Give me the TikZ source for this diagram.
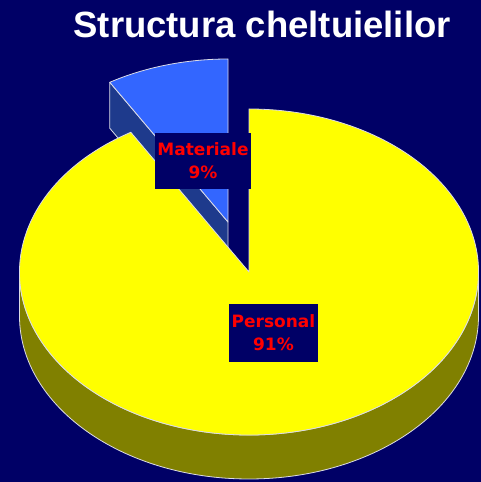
\documentclass[tikz,border=0pt]{standalone}
\usepackage{fontspec}
\setmainfont{Liberation Sans}
\newfontfamily\sharefont{DejaVu Sans}
\definecolor{navy}{HTML}{000066}
\definecolor{rim}{HTML}{DCDCE6}
\definecolor{topblue}{HTML}{3366FF}
\definecolor{sideblue}{HTML}{1E3A8C}
\definecolor{topyellow}{HTML}{FFFF00}
\definecolor{sideyellow}{HTML}{808000}
\begin{document}
\begin{tikzpicture}[x=1pt,y=1pt,
  slice/.style={draw=rim,line width=0.8pt,line join=round},
  share/.style={fill=navy,text=red,inner sep=0pt,align=center,
    font=\sharefont\bfseries\fontsize{17}{23}\selectfont}]

  \useasboundingbox (0,0) rectangle (481,482);
  \fill[navy] (0,0) rectangle (481,482);

  \node[anchor=base west,text=white,font=\bfseries\fontsize{36.5}{40}\selectfont] (title) at (70,444) {Structura cheltuielilor};

  \begin{scope}[shift={(228,260)}]
    \draw[slice,fill=sideblue] (121:229.5 and 163) -- (0,0) -- (0,-46) -- ++(121:229.5 and 163) -- cycle;
    \draw[slice,fill=topblue] (0,0) -- (90:229.5 and 163) arc (90:121:229.5 and 163) -- cycle;
  \end{scope}

  \begin{scope}[shift={(249,210)}]
    \draw[slice,fill=sideyellow] (-229.5,0) arc (180:360:229.5 and 163) -- ++(0,-44) arc (360:180:229.5 and 163) -- cycle;
    \draw[slice,fill=topyellow] (0,0) -- (121:229.5 and 163) arc (121:450:229.5 and 163) -- cycle;
  \end{scope}

  \node[share,minimum width=96,minimum height=56] (mat) at (203,321) {Materiale\\9\%};
  \node[share,minimum width=89,minimum height=58] (pers) at (273.5,149) {Personal\\91\%};

\end{tikzpicture}
\end{document}
